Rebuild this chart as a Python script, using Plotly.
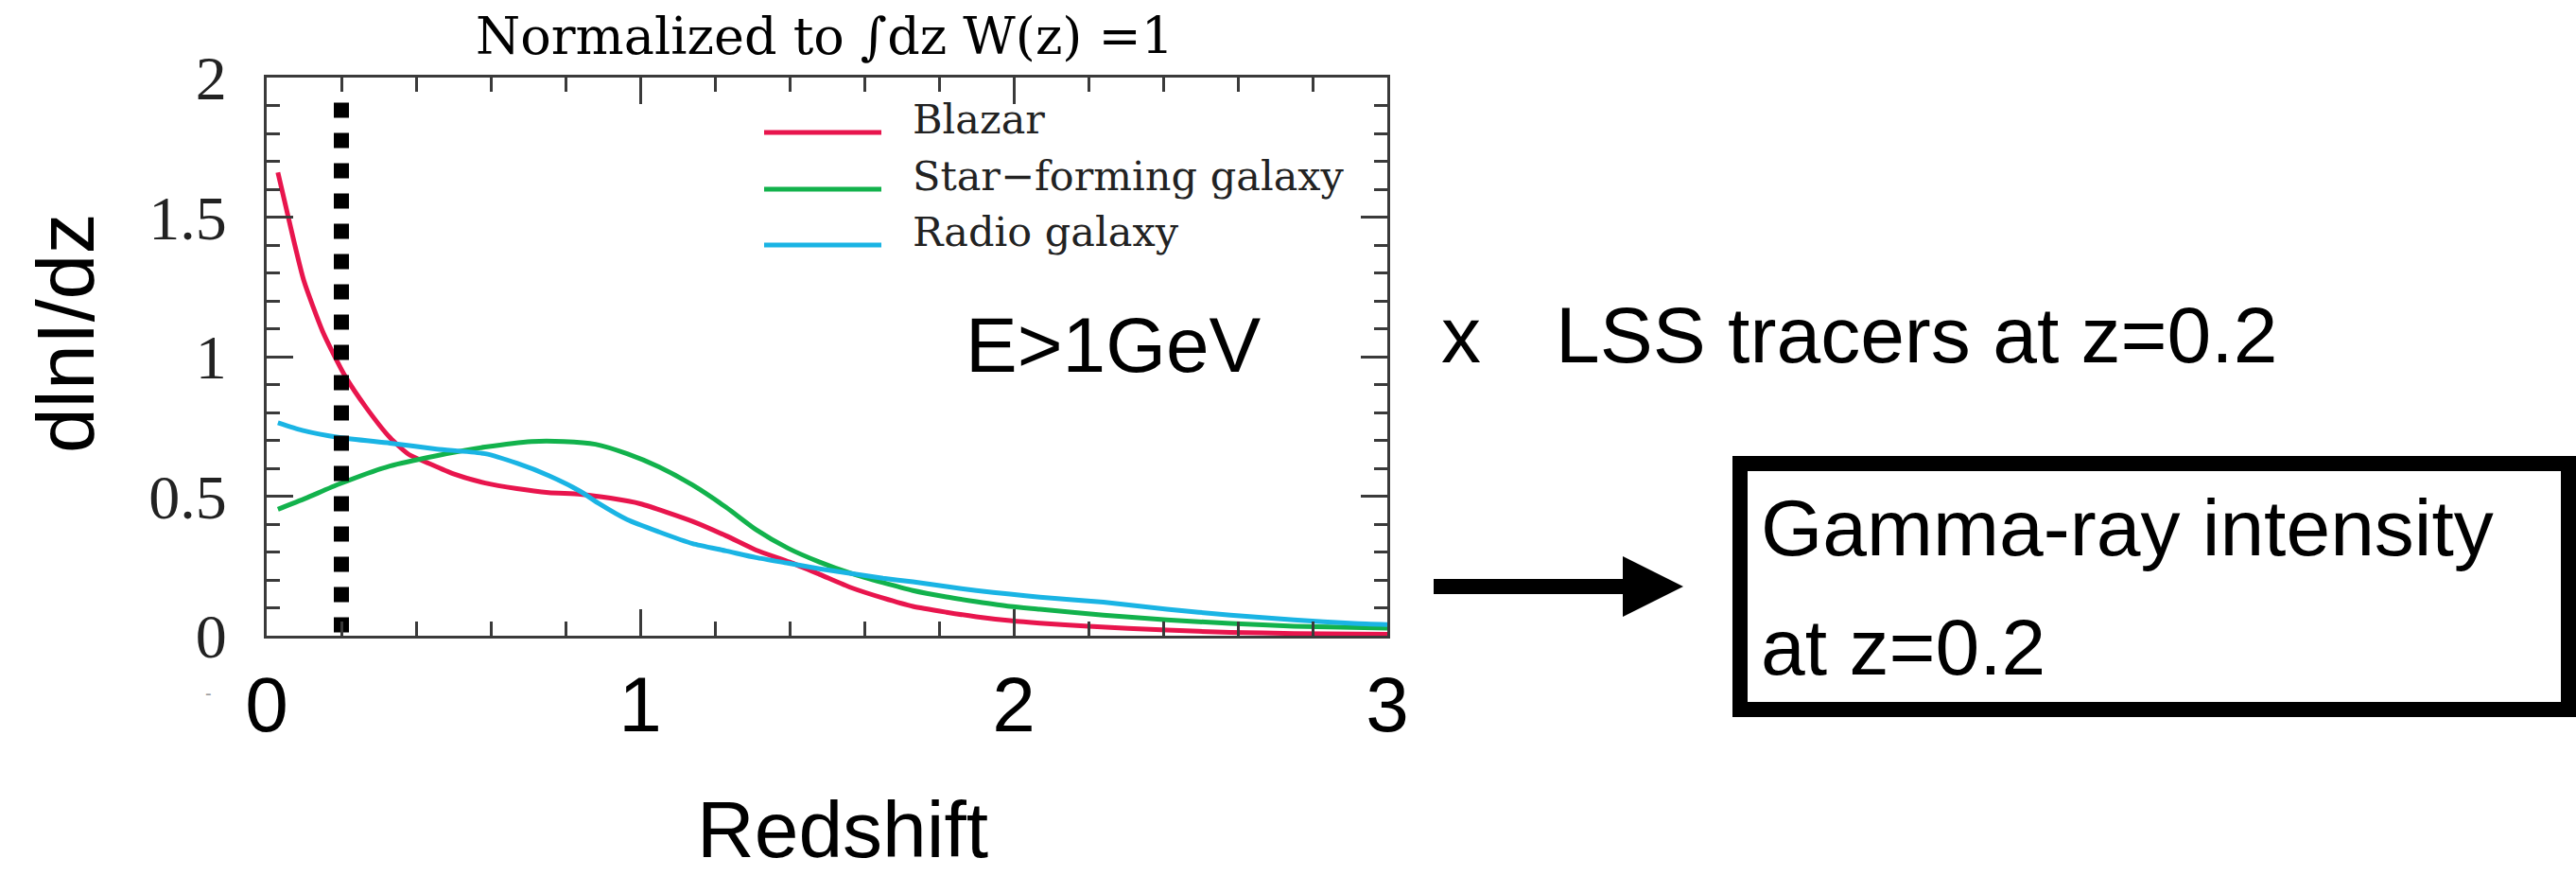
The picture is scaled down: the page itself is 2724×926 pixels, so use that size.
import plotly.graph_objects as go

W, H = 2724, 926

# Redshift distributions dlnI/dz (E > 1 GeV), normalized to unit integral
blazar_z = [0.03, 0.07, 0.10, 0.15, 0.19, 0.21, 0.265, 0.33, 0.38, 0.43, 0.50, 0.585,
            0.67, 0.755, 0.84, 0.92, 1.0, 1.14, 1.23, 1.31, 1.40, 1.48, 1.565, 1.65,
            1.73, 1.82, 1.90, 1.99, 2.07, 2.2, 2.41, 2.58, 2.75, 3.0]
blazar_w = [1.66, 1.43, 1.27, 1.09, 0.98, 0.93, 0.82, 0.71, 0.65, 0.62, 0.58, 0.547,
            0.527, 0.513, 0.507, 0.493, 0.473, 0.41, 0.358, 0.307, 0.264, 0.22, 0.172, 0.135,
            0.105, 0.084, 0.068, 0.054, 0.045, 0.034, 0.02, 0.012, 0.008, 0.005]

sfg_z = [0.03, 0.105, 0.195, 0.33, 0.455, 0.585, 0.71, 0.795, 0.88, 0.965, 1.05, 1.14,
         1.23, 1.31, 1.395, 1.48, 1.565, 1.65, 1.73, 1.82, 1.90, 1.99, 2.07, 2.24,
         2.41, 2.58, 2.75, 3.0]
sfg_w = [0.453, 0.493, 0.544, 0.608, 0.645, 0.676, 0.696, 0.696, 0.686, 0.652, 0.605, 0.54,
         0.46, 0.38, 0.314, 0.264, 0.223, 0.19, 0.162, 0.139, 0.122, 0.105, 0.095, 0.074,
         0.057, 0.044, 0.034, 0.027]

radio_z = [0.03, 0.095, 0.195, 0.33, 0.455, 0.585, 0.67, 0.755, 0.84, 0.89, 0.965, 1.05,
           1.14, 1.23, 1.31, 1.395, 1.48, 1.565, 1.65, 1.73, 1.82, 1.90, 1.99, 2.07,
           2.24, 2.41, 2.58, 2.75, 2.91, 3.0]
radio_w = [0.763, 0.736, 0.71, 0.69, 0.669, 0.652, 0.618, 0.574, 0.517, 0.473, 0.416, 0.372,
           0.33, 0.304, 0.28, 0.26, 0.24, 0.223, 0.206, 0.193, 0.176, 0.162, 0.149, 0.138,
           0.12, 0.095, 0.074, 0.057, 0.044, 0.04]

series_names = ["Blazar", "Star\u2212forming galaxy", "Radio galaxy"]
series_colors = ["#E8154D", "#12B24C", "#1AB4E4"]

z_marker = 0.2          # redshift of the LSS tracers
z_marker_top = 1.91

x_ticks = [0, 1, 2, 3]
y_ticks = [0, 0.5, 1, 1.5, 2]
y_ticklabels = ["0", "0.5", "1", "1.5", "2"]


def px(x):
    return x / W


def py(y):
    return 1 - y / H


fig = go.Figure()

for zs, ws, name, col in zip([blazar_z, sfg_z, radio_z], [blazar_w, sfg_w, radio_w],
                             series_names, series_colors):
    fig.add_trace(go.Scatter(x=zs, y=ws, mode="lines", name=name, showlegend=False,
                             line=dict(color=col, width=5, shape="spline", smoothing=0.6)))

# vertical dotted marker at z = 0.2
fig.add_trace(go.Scatter(x=[z_marker, z_marker], y=[z_marker_top, 0], mode="lines",
                         showlegend=False,
                         line=dict(color="black", width=16, dash="16px,16px")))

axis_common = dict(showline=True, linewidth=3, linecolor="#3a3a3a", mirror="ticks",
                   ticks="inside", tickwidth=3, tickcolor="#3a3a3a", ticklen=28,
                   showgrid=False, zeroline=False, automargin=False)

fig.update_xaxes(range=[0, 3], domain=[px(282), px(1467)], tickvals=x_ticks,
                 ticktext=[str(t) for t in x_ticks],
                 tickfont=dict(family="Liberation Sans", size=82, color="black"),
                 ticklabelstandoff=0,
                 minor=dict(dtick=0.2, ticks="inside", ticklen=15, tickwidth=3,
                            tickcolor="#3a3a3a", showgrid=False),
                 **axis_common)
fig.update_yaxes(range=[0, 2], domain=[py(672), py(82)], tickvals=y_ticks,
                 ticktext=y_ticklabels,
                 tickfont=dict(family="Liberation Serif", size=66, color="#222222"),
                 ticklabelstandoff=26,
                 minor=dict(dtick=0.1, ticks="inside", ticklen=14, tickwidth=3,
                            tickcolor="#3a3a3a", showgrid=False),
                 **axis_common)

annotations = []


def text(x, y, s, size, family="Liberation Sans", xanchor="left", color="black", angle=0):
    annotations.append(dict(x=px(x), y=py(y), xref="paper", yref="paper", text=s,
                            showarrow=False, xanchor=xanchor, yanchor="middle",
                            textangle=angle,
                            font=dict(family=family, size=size, color=color)))


# panel title
text(872, 39, "Normalized to \u222bdz W(z) =1", 54, family="DejaVu Serif", xanchor="center")

# legend
shapes = []
legend_y = [140, 200, 259]
for name, col, ly in zip(series_names, series_colors, legend_y):
    shapes.append(dict(type="line", xref="paper", yref="paper", x0=px(808), x1=px(932),
                       y0=py(ly), y1=py(ly), line=dict(color=col, width=5)))
    text(963, ly - 14, name, 43, family="DejaVu Serif", color="#222222")

text(1019, 364, "E&gt;1GeV", 82)
text(1522, 354, "x", 84)
text(1643, 354, "LSS tracers at z=0.2", 84)
text(1860, 558, "Gamma-ray intensity", 84)
text(1860, 684, "at z=0.2", 84)
text(891, 877, "Redshift", 84, xanchor="center")
text(69, 353, "dlnI/dz", 86, xanchor="center", angle=-90)
text(220, 733, "-", 20, xanchor="center", color="#9a9a9a")

# arrow pointing to the box
shapes.append(dict(type="rect", xref="paper", yref="paper", x0=px(1516), x1=px(1720),
                   y0=py(628), y1=py(612), fillcolor="black", line=dict(width=0)))
shapes.append(dict(type="path", xref="paper", yref="paper",
                   path=f"M {px(1716)} {py(588)} L {px(1780)} {py(620)} L {px(1716)} {py(652)} Z",
                   fillcolor="black", line=dict(width=0)))
# result box
shapes.append(dict(type="rect", xref="paper", yref="paper", x0=px(1840), x1=px(2716),
                   y0=py(750), y1=py(490), line=dict(color="black", width=16),
                   fillcolor="rgba(0,0,0,0)"))

fig.update_layout(width=W, height=H, margin=dict(l=0, r=0, t=0, b=0),
                  paper_bgcolor="white", plot_bgcolor="white",
                  annotations=annotations, shapes=shapes)

fig.write_html("out.html")
